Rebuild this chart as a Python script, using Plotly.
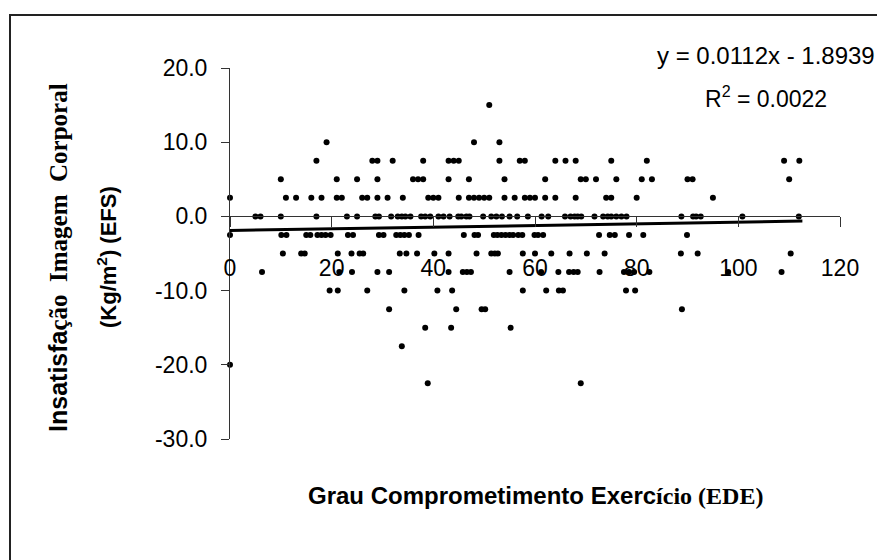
import plotly.graph_objects as go

# ---- data (x = EDE score, grouped by EFS level) ----
efs_levels = [15.0, 10.0, 7.5, 5.0, 2.5, 0.0, -2.5, -5.0, -7.5, -10.0, -12.5, -15.0, -17.5, -20.0, -22.5]

ede_at_15 = [51]
ede_at_10 = [19, 48, 53]
ede_at_7_5 = [17, 28, 29, 32, 38, 43, 44, 45, 53, 57, 58, 64, 66, 68, 75, 82, 109, 112]
ede_at_5 = [10, 21, 25, 29, 36, 37, 38, 43, 47, 54, 62, 69, 70, 72, 76, 81, 83, 90, 91, 110]
ede_at_2_5 = [0, 11, 13, 16, 18, 21, 22, 26, 27, 29, 31, 34, 39, 40, 41, 45, 47, 48, 49, 50,
              51, 54, 56, 58, 59, 60, 62, 64, 68, 74, 75, 80, 95]
ede_at_0 = [5, 6, 10, 17, 23, 25, 28.6, 29.3, 31.7, 33, 33.8, 34.5, 35.5, 37.6, 38.4, 39.4, 41, 42,
            43.2, 44.9, 45.5, 46.5, 47.1, 49.8, 51.4, 52.4, 53.5, 55, 56.5, 58.6, 61.3, 62.6,
            65.9, 67, 67.8, 68.4, 69.1, 71.7, 73.4, 74.3, 75, 76, 77, 78, 88.8, 91.1, 91.7, 92.6,
            100.8, 111.9]
ede_at_m2_5 = [0, 10.1, 11.1, 15, 15.8, 17.2, 18, 18.8, 19.8, 23.2, 24.2, 29.3, 30.2, 32.7, 33.5,
               34.3, 35.2, 37.1, 46, 48.1, 48.8, 51.9, 52.6, 53.4, 54.2, 55, 55.7, 56.7, 57.5,
               59.9, 60.6, 61.6, 72.6, 74.7, 75.7, 78.5, 81.3, 89.9]
ede_at_m5 = [10.4, 14, 14.7, 21.2, 23.9, 25.5, 26.2, 33.4, 34.7, 36.8, 40.2, 43, 48.5, 51.4, 52.1,
             52.7, 57.6, 60, 63.2, 66.8, 70.2, 73.7, 88.7, 92, 110.3]
ede_at_m7_5 = [6.3, 21.5, 24, 29, 31.3, 43, 45.8, 46.6, 47.4, 55, 61.2, 64.6, 66.7, 67.6, 68.4,
               72.7, 77.5, 78.5, 79.5, 82.5, 98, 108.5]
ede_at_m10 = [19.6, 21.2, 27, 34.3, 40.8, 43.7, 57.6, 62.2, 64.7, 65.5, 77.9, 79.7]
ede_at_m12_5 = [31.3, 44.5, 49.5, 50.2, 88.9]
ede_at_m15 = [38.4, 43.5, 55.2]
ede_at_m17_5 = [33.8]
ede_at_m20 = [0]
ede_at_m22_5 = [38.9, 69]

ede_rows = [ede_at_15, ede_at_10, ede_at_7_5, ede_at_5, ede_at_2_5, ede_at_0, ede_at_m2_5,
            ede_at_m5, ede_at_m7_5, ede_at_m10, ede_at_m12_5, ede_at_m15, ede_at_m17_5,
            ede_at_m20, ede_at_m22_5]

# reported linear trend
trend_slope = 0.0112
trend_intercept = -1.8939
equation_text = "y = 0.0112x - 1.8939"
r2_text = "R<sup>2</sup> = 0.0022"

x_tick_vals = [0, 20, 40, 60, 80, 100, 120]
x_tick_text = ["0", "20", "40", "60", "80", "100", "120"]
y_tick_vals = [20, 10, 0, -10, -20, -30]
y_tick_text = ["20.0", "10.0", "0.0", "-10.0", "-20.0", "-30.0"]

# ---- build flat series ----
ede = []
efs = []
for level, row in zip(efs_levels, ede_rows):
    ede.extend(row)
    efs.extend([level] * len(row))

trend_x = [min(ede), max(ede) + 0.6]
trend_y = [trend_slope * v + trend_intercept for v in trend_x]

SANS = "Liberation Sans, Arial, sans-serif"
SERIF = "Liberation Serif, Times New Roman, serif"

fig = go.Figure()
fig.add_trace(go.Scatter(x=ede, y=efs, mode="markers",
                         marker=dict(color="black", size=6),
                         cliponaxis=False, showlegend=False, hoverinfo="x+y"))
fig.add_trace(go.Scatter(x=trend_x, y=trend_y, mode="lines",
                         line=dict(color="black", width=3),
                         cliponaxis=False, showlegend=False, hoverinfo="skip"))

y_min, y_max = -30, 20
fig.update_layout(
    width=877, height=560,
    margin=dict(l=230, r=37, t=68, b=121),
    paper_bgcolor="white", plot_bgcolor="white",
    font=dict(family=SANS, color="black"),
    xaxis=dict(range=[0, 120], tickvals=x_tick_vals, ticktext=x_tick_text,
               showgrid=False, zeroline=False, showline=True, linecolor="#333",
               linewidth=1, ticks="outside", ticklen=10, tickcolor="#333",
               anchor="free", position=(0 - y_min) / (y_max - y_min),
               ticklabelstandoff=21, tickfont=dict(size=23, family=SANS)),
    yaxis=dict(range=[y_min, y_max], tickvals=y_tick_vals, ticktext=y_tick_text,
               showgrid=False, zeroline=False, showline=True, linecolor="#333",
               linewidth=1, ticks="outside", ticklen=8, tickcolor="#333",
               ticklabelstandoff=9, tickfont=dict(size=23, family=SANS)),
)

annotations = [
    dict(text=equation_text, x=1.061, y=1.035, xanchor="right", yanchor="middle",
         font=dict(size=24, family=SANS)),
    dict(text=r2_text, x=0.878, y=0.922, xanchor="center", yanchor="middle",
         font=dict(size=23, family=SANS)),
    dict(text='<b>Grau Comprometimento Exerc<span style="font-family:' + SERIF + '">ício (EDE)</span></b>',
         x=0.5016, y=-0.151, xanchor="center", yanchor="middle",
         font=dict(size=24, family=SANS)),
    dict(text='<b>Insatisfa<span style="font-family:' + SERIF + '">ção  Imagem  Corporal</span></b>',
         x=-0.282, y=0.4906, xanchor="center", yanchor="middle", textangle=-90,
         font=dict(size=25, family=SANS)),
    dict(text='<b>(Kg/m<sup>2</sup>) (EFS)</b>',
         x=-0.2016, y=0.4906, xanchor="center", yanchor="middle", textangle=-90,
         font=dict(size=22, family=SANS)),
]
for a in annotations:
    a.update(xref="paper", yref="paper", showarrow=False)
fig.update_layout(annotations=annotations)

# chart-area border (extends past the right and bottom edges of the picture)
fig.add_shape(type="rect", xref="paper", yref="paper",
              x0=(10 - 230) / 610, x1=1.3, y0=-1.0, y1=(439 - 15) / 371,
              line=dict(color="#222", width=2), fillcolor="rgba(0,0,0,0)", layer="below")

fig.write_html("out.html")
